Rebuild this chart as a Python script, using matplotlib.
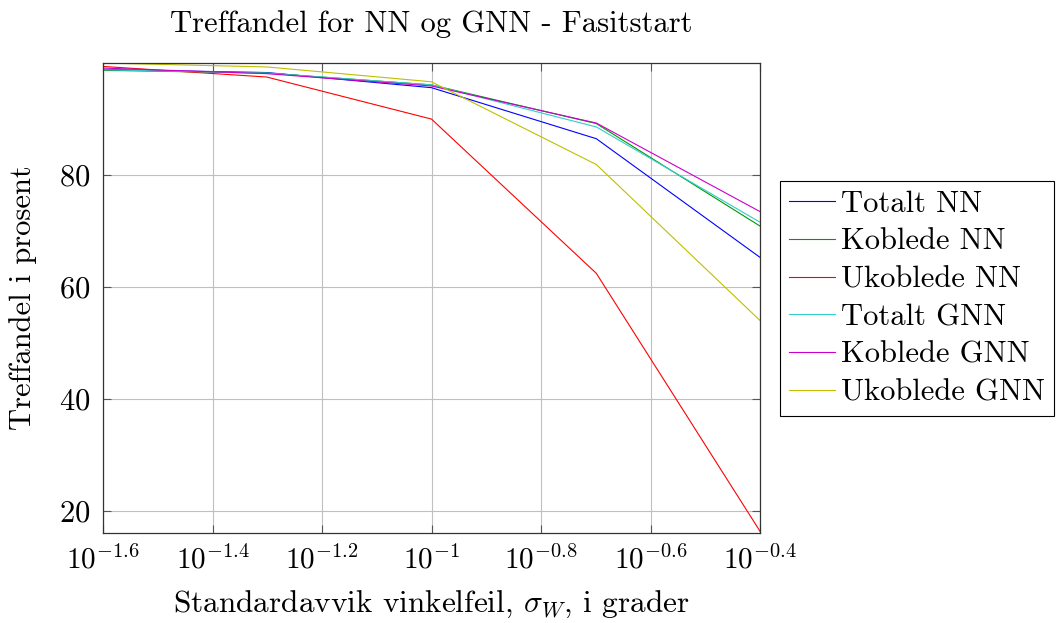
import numpy as np
import matplotlib
matplotlib.use("Agg")
import matplotlib.pyplot as plt
from matplotlib.ticker import FixedLocator, FixedFormatter, NullLocator

plt.rcParams['font.family'] = 'cmr10'
plt.rcParams['mathtext.fontset'] = 'cm'
plt.rcParams['axes.formatter.use_mathtext'] = True

# data
sigma = [0.025, 0.05, 0.1, 0.2, 0.4]
totalt_nn = [98.75, 98.2, 95.5, 86.4, 65.1]
koblede_nn = [98.6, 98.1, 96.0, 89.1, 70.7]
ukoblede_nn = [99.3, 97.4, 89.9, 62.4, 16.1]
totalt_gnn = [98.7, 98.1, 96.0, 88.5, 71.4]
koblede_gnn = [99.0, 98.0, 95.8, 89.2, 73.3]
ukoblede_gnn = [99.9, 99.2, 96.55, 81.8, 53.8]

x_tick_exps = [-1.6, -1.4, -1.2, -1.0, -0.8, -0.6, -0.4]
x_tick_labels = [r'$10^{-1.6}$', r'$10^{-1.4}$', r'$10^{-1.2}$', r'$10^{-1}$',
                 r'$10^{-0.8}$', r'$10^{-0.6}$', r'$10^{-0.4}$']
y_ticks = [20, 40, 60, 80]

series = [
    ('Totalt NN', totalt_nn, '#0000ff'),
    ('Koblede NN', koblede_nn, '#009900'),
    ('Ukoblede NN', ukoblede_nn, '#ff0000'),
    ('Totalt GNN', totalt_gnn, '#33cccc'),
    ('Koblede GNN', koblede_gnn, '#cc00cc'),
    ('Ukoblede GNN', ukoblede_gnn, '#bfbf00'),
]

FS = 22

fig = plt.figure(figsize=(10.57, 6.23), dpi=100)
ax = fig.add_axes([103/1057, 1-533/623, 657/1057, 470/623])

for label, vals, col in series:
    ax.plot(sigma, vals, color=col, lw=0.8, label=label)

ax.set_xscale('log')
ax.set_xlim(10**-1.6, 10**-0.4)
ax.set_ylim(min(ukoblede_nn), max(ukoblede_gnn))

ax.xaxis.set_major_locator(FixedLocator([10**e for e in x_tick_exps]))
ax.xaxis.set_major_formatter(FixedFormatter(x_tick_labels))
ax.xaxis.set_minor_locator(NullLocator())
ax.set_yticks(y_ticks)

ax.grid(True, color='#c0c0c0', lw=0.8)
ax.tick_params(direction='in', top=True, right=True, length=6, width=0.8,
               color='#555555', pad=9)
ax.tick_params(axis='x', labelsize=21)
ax.tick_params(axis='y', labelsize=FS)
for s in ax.spines.values():
    s.set_color('#333333')
    s.set_linewidth(0.9)

ax.set_title('Treffandel for NN og GNN - Fasitstart', fontsize=FS, pad=22)
ax.set_xlabel(r'Standardavvik vinkelfeil, $\sigma_W$, i grader', fontsize=22.5, labelpad=10)
ax.set_ylabel('Treffandel i prosent', fontsize=FS, labelpad=16)

leg = ax.legend(loc='center left', bbox_to_anchor=(1.03, 0.499), fontsize=FS,
                frameon=True, fancybox=False, edgecolor='black', framealpha=1,
                handlelength=1.5, handletextpad=0.2, borderpad=0.3, labelspacing=0.34,
                borderaxespad=0)
leg.get_frame().set_linewidth(0.8)

fig.savefig('out.png', dpi=100)
